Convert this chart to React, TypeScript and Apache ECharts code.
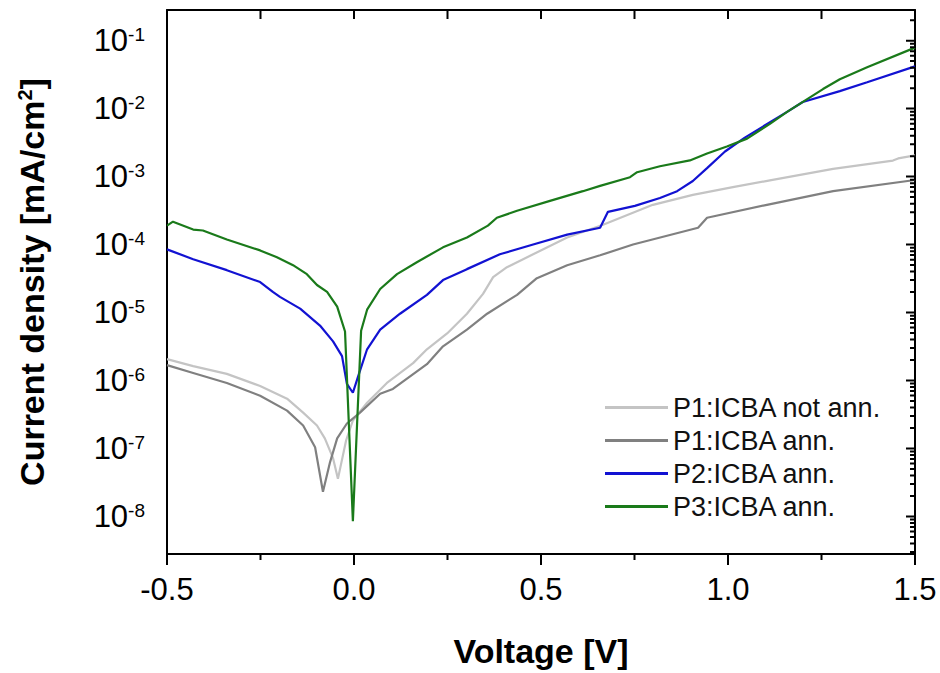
import React, { useEffect, useRef } from "react";
import * as echarts from "echarts";

const FONT = '"Liberation Sans", Arial, Helvetica, sans-serif';

// Voltage [V] and current density [mA/cm^2] per sample
const vP1NotAnn = [-0.5, -0.43, -0.34, -0.251, -0.179, -0.136, -0.099, -0.078, -0.056, -0.043, -0.021, -0.003, 0.035, 0.088, 0.158, 0.195, 0.249, 0.302, 0.345, 0.372, 0.409, 0.479, 0.57, 0.666, 0.799, 0.906, 1.013, 1.112, 1.281, 1.441, 1.455, 1.5];
const jP1NotAnn = [2.06e-6, 1.63e-6, 1.25e-6, 8.3e-7, 5.4e-7, 3.37e-7, 2.18e-7, 1.41e-7, 7.2e-8, 3.57e-8, 1.32e-7, 2.58e-7, 4.71e-7, 9.2e-7, 1.8e-6, 2.88e-6, 4.92e-6, 9.6e-6, 1.88e-5, 3.32e-5, 4.65e-5, 7.2e-5, 1.27e-4, 1.96e-4, 3.84e-4, 5.37e-4, 7.0e-4, 8.8e-4, 1.3e-3, 1.72e-3, 1.85e-3, 2.05e-3];

const vP1Ann = [-0.5, -0.43, -0.34, -0.251, -0.179, -0.136, -0.104, -0.083, -0.064, -0.045, -0.019, 0.016, 0.07, 0.104, 0.195, 0.238, 0.302, 0.356, 0.436, 0.489, 0.57, 0.658, 0.746, 0.92, 0.944, 1.104, 1.281, 1.5];
const jP1Ann = [1.68e-6, 1.29e-6, 9.2e-7, 5.96e-7, 3.6e-7, 2.18e-7, 1.04e-7, 2.31e-8, 6.3e-8, 1.41e-7, 2.33e-7, 3.37e-7, 6.37e-7, 7.5e-7, 1.74e-6, 3.18e-6, 5.6e-6, 9.6e-6, 1.82e-5, 3.2e-5, 4.97e-5, 6.95e-5, 1.0e-4, 1.77e-4, 2.48e-4, 3.84e-4, 6.1e-4, 8.9e-4];

const vP2Ann = [-0.5, -0.43, -0.34, -0.251, -0.217, -0.198, -0.144, -0.091, -0.056, -0.032, -0.019, -0.003, 0.013, 0.035, 0.07, 0.123, 0.195, 0.238, 0.302, 0.39, 0.479, 0.57, 0.658, 0.679, 0.751, 0.818, 0.864, 0.906, 0.944, 0.992, 1.045, 1.158, 1.2, 1.299, 1.372, 1.5];
const jP2Ann = [8.5e-5, 6.08e-5, 4.2e-5, 2.81e-5, 2.01e-5, 1.7e-5, 1.14e-5, 6.43e-6, 3.76e-6, 2.28e-6, 8.9e-7, 6.6e-7, 1.24e-6, 2.88e-6, 5.6e-6, 9.6e-6, 1.82e-5, 3.0e-5, 4.35e-5, 7.2e-5, 1.0e-4, 1.4e-4, 1.77e-4, 3.03e-4, 3.71e-4, 4.85e-4, 6.1e-4, 8.6e-4, 1.33e-3, 2.34e-3, 3.75e-3, 8.95e-3, 1.25e-2, 1.81e-2, 2.45e-2, 4.19e-2];

const vP3Ann = [-0.5, -0.484, -0.43, -0.404, -0.34, -0.251, -0.206, -0.163, -0.126, -0.099, -0.072, -0.045, -0.024, -0.003, 0.019, 0.035, 0.07, 0.115, 0.168, 0.238, 0.302, 0.358, 0.382, 0.436, 0.524, 0.612, 0.658, 0.738, 0.757, 0.818, 0.898, 0.944, 0.997, 1.051, 1.112, 1.158, 1.254, 1.299, 1.372, 1.5];
const jP3Ann = [1.9e-4, 2.17e-4, 1.66e-4, 1.61e-4, 1.19e-4, 8.2e-5, 6.5e-5, 4.97e-5, 3.67e-5, 2.54e-5, 2.01e-5, 1.22e-5, 5.26e-6, 8.5e-9, 5.4e-6, 1.1e-5, 2.22e-5, 3.67e-5, 5.5e-5, 9.1e-5, 1.27e-4, 1.9e-4, 2.48e-4, 3.14e-4, 4.39e-4, 6.1e-4, 7.3e-4, 9.8e-4, 1.16e-3, 1.42e-3, 1.73e-3, 2.19e-3, 2.77e-3, 3.62e-3, 5.98e-3, 8.95e-3, 1.94e-2, 2.71e-2, 4.05e-2, 7.9e-2];

const seriesNames = ["P1:ICBA not ann.", "P1:ICBA ann.", "P2:ICBA ann.", "P3:ICBA ann."];
const seriesColors = ["#c4c4c4", "#808080", "#1212d2", "#1a7a1a"];

const xMin = -0.5;
const xMax = 1.5;
const xMajorTicks = [-0.5, 0, 0.5, 1.0, 1.5];
const xMinorTicks = [-0.25, 0.25, 0.75, 1.25];
const yMin = 2.8e-9;
const yMax = 0.2825;
const yDecades = [-9, -8, -7, -6, -5, -4, -3, -2, -1];

// tick sizes (px) and the plot box size (px) used to express them in axis units
const PLOT_W = 748;
const PLOT_H = 550;

function pairs(v: number[], j: number[]) {
  return v.map((x, i) => [x, j[i]]);
}

export default function App() {
  const ref = useRef<HTMLDivElement>(null);
  useEffect(() => {
    if (!ref.current) return;
    const chart = echarts.init(ref.current, undefined, { renderer: "svg" });

    const xPerPx = (xMax - xMin) / PLOT_W;
    const logPerPx = (Math.log10(yMax) - Math.log10(yMin)) / PLOT_H;

    // y-axis tick segments (left: outward, right: inward)
    const yTickSeg: any[] = [];
    yDecades.forEach((d) => {
      for (let k = 1; k <= 9; k++) {
        const val = k * Math.pow(10, d);
        if (val < yMin || val > yMax) continue;
        const major = k === 1;
        const lenL = (major ? 11 : 6) * xPerPx;
        const lenR = (major ? 9 : 5) * xPerPx;
        yTickSeg.push([xMin - lenL, val], [xMin, val], "-");
        yTickSeg.push([xMax - lenR, val], [xMax, val], "-");
      }
    });
    // x-axis tick segments (bottom: outward, top: inward)
    const xTickSeg: any[] = [];
    xMajorTicks.forEach((x) => {
      xTickSeg.push([x, yMin], [x, yMin / Math.pow(10, 11 * logPerPx)], "-");
      xTickSeg.push([x, yMax], [x, yMax / Math.pow(10, 9 * logPerPx)], "-");
    });
    xMinorTicks.forEach((x) => {
      xTickSeg.push([x, yMin], [x, yMin / Math.pow(10, 6 * logPerPx)], "-");
      xTickSeg.push([x, yMax], [x, yMax / Math.pow(10, 9 * logPerPx)], "-");
    });

    const datasets = [
      pairs(vP1NotAnn, jP1NotAnn),
      pairs(vP1Ann, jP1Ann),
      pairs(vP2Ann, jP2Ann),
      pairs(vP3Ann, jP3Ann),
    ];

    const lineSeries = datasets.map((d, i) => ({
      name: seriesNames[i],
      type: "line",
      data: d,
      symbol: "none",
      showSymbol: false,
      itemStyle: { color: seriesColors[i] },
      lineStyle: { color: seriesColors[i], width: 2.2 },
      z: 3 + i,
    }));

    const tickSeries = [yTickSeg, xTickSeg].map((seg) => ({
      type: "line",
      data: seg,
      symbol: "none",
      showSymbol: false,
      silent: true,
      clip: false,
      connectNulls: false,
      lineStyle: { color: "#000", width: 2, cap: "butt" },
      itemStyle: { color: "#000" },
      z: 10,
    }));

    const option: any = {
      animation: false,
      backgroundColor: "#ffffff",
      grid: { left: 167, right: 25, top: 10, bottom: 113 },
      legend: {
        data: seriesNames.map((n) => ({ name: n, icon: "rect" })),
        orient: "vertical",
        left: 605,
        top: 394,
        padding: 0,
        itemWidth: 63,
        itemHeight: 3,
        itemGap: 6,
        textStyle: { fontFamily: FONT, fontSize: 27, lineHeight: 27, color: "#111" },
        selectedMode: false,
      },
      xAxis: [
        {
          type: "value",
          position: "bottom",
          min: xMin,
          max: xMax,
          interval: 0.5,
          axisLine: { show: true, onZero: false, lineStyle: { color: "#000", width: 2 } },
          axisTick: { show: false },
          splitLine: { show: false },
          axisLabel: {
            margin: 20,
            fontFamily: FONT,
            fontSize: 31,
            color: "#000",
            formatter: (v: number) => v.toFixed(1),
          },
          name: "Voltage [V]",
          nameLocation: "middle",
          nameGap: 80,
          nameTextStyle: { fontFamily: FONT, fontSize: 34, fontWeight: "bold", color: "#000" },
        },
        {
          type: "value",
          position: "top",
          min: xMin,
          max: xMax,
          interval: 0.25,
          axisLine: { show: true, onZero: false, lineStyle: { color: "#000", width: 2 } },
          axisTick: { show: false },
          splitLine: { show: false },
          axisLabel: { show: false },
        },
      ],
      yAxis: [
        {
          type: "log",
          logBase: 10,
          position: "left",
          min: yMin,
          max: yMax,
          axisLine: { show: true, onZero: false, lineStyle: { color: "#000", width: 2 } },
          axisTick: { show: false },
          splitLine: { show: false },
          axisLabel: {
            margin: 22,
            showMinLabel: false,
            showMaxLabel: false,
            formatter: (v: number) => {
              const e = Math.round(Math.log10(v));
              return `{b|10}{s|${e}}`;
            },
            rich: {
              b: { fontFamily: FONT, fontSize: 31, color: "#000" },
              s: { fontFamily: FONT, fontSize: 19, color: "#000", verticalAlign: "top", lineHeight: 18 },
            },
          },
          name: "{a|Current density [mA/cm}{s|2}{a|]}",
          nameLocation: "middle",
          nameGap: 118,
          nameTextStyle: {
            fontFamily: FONT,
            fontSize: 34,
            fontWeight: "bold",
            color: "#000",
            rich: {
              a: { fontFamily: FONT, fontSize: 34, fontWeight: "bold", color: "#000" },
              s: { fontFamily: FONT, fontSize: 20, fontWeight: "bold", color: "#000", verticalAlign: "top", lineHeight: 20 },
            },
          },
        },
        {
          type: "log",
          logBase: 10,
          position: "right",
          min: yMin,
          max: yMax,
          axisLine: { show: true, onZero: false, lineStyle: { color: "#000", width: 2 } },
          axisTick: { show: false },
          splitLine: { show: false },
          axisLabel: { show: false },
        },
      ],
      series: [...lineSeries, ...tickSeries],
    };

    chart.setOption(option);
    return () => chart.dispose();
  }, []);

  return (
    <div
      ref={ref}
      style={{ position: "absolute", left: 0, top: 0, width: 940, height: 673 }}
    />
  );
}
